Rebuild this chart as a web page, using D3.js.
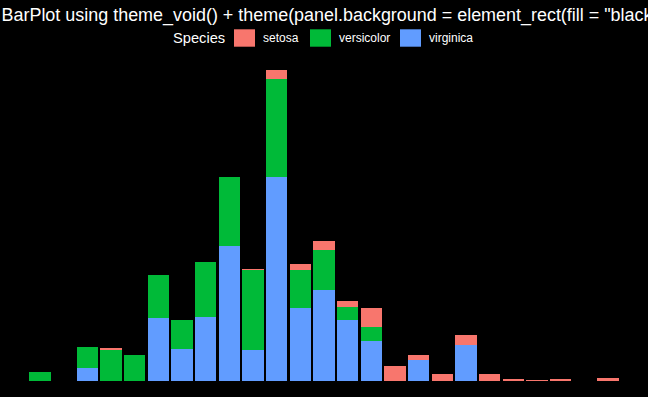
<!DOCTYPE html>
<html>
<head>
<meta charset="utf-8">
<script src="https://cdn.jsdelivr.net/npm/d3@7"></script>
<style>
  body { margin: 0; background: #000; }
  text { font-family: "Liberation Sans", Arial, sans-serif; fill: #fff; }
</style>
</head>
<body>
<div id="chart"></div>
<script>
var width = 648,
height = 397;

// Sepal.Width values present in the data
var sepalWidth = [2.0, 2.2, 2.3, 2.4, 2.5, 2.6, 2.7, 2.8, 2.9, 3.0, 3.1, 3.2,
  3.3, 3.4, 3.5, 3.6, 3.7, 3.8, 3.9, 4.0, 4.1, 4.2, 4.4];

// summed bar heights per species
var setosa = [0, 0, 0.3, 0, 0, 0, 0, 0, 0.2, 1.1, 0.7, 1.0,
  0.7, 2.3, 1.8, 0.5, 0.8, 1.2, 0.8, 0.2, 0.1, 0.2, 0.4];
var versicolor = [1.0, 2.5, 3.6, 3.1, 5.0, 3.4, 6.5, 8.0, 9.4, 11.5, 4.4, 4.7,
  1.6, 1.6, 0, 0, 0, 0, 0, 0, 0, 0, 0];
var virginica = [0, 1.5, 0, 0, 7.4, 3.7, 7.5, 15.9, 3.6, 23.9, 8.6, 10.7,
  7.1, 4.7, 0, 2.5, 0, 4.2, 0, 0, 0, 0, 0];

var species = ["setosa", "versicolor", "virginica"];
var colors = ["#F8766D", "#00BA38", "#619CFF"];
var titleText = 'BarPlot using theme_void() + theme(panel.background = element_rect(fill = "black"))';

var rows = sepalWidth.map(function(w, i) {
  return { w: w, setosa: setosa[i], versicolor: versicolor[i], virginica: virginica[i] };
});

var color = d3.scaleOrdinal().domain(species).range(colors);

// virginica at the bottom, setosa on top
var stacked = d3.stack().keys(["virginica", "versicolor", "setosa"])(rows);

var maxY = d3.max(rows, function(d) { return d.setosa + d.versicolor + d.virginica; });

var barW = 0.09,
  xMin = d3.min(sepalWidth) - barW / 2,
  xMax = d3.max(sepalWidth) + barW / 2,
  xPad = (xMax - xMin) * 0.05;

var x = d3.scaleLinear()
  .domain([xMin - xPad, xMax + xPad])
  .range([0, width]);

var y = d3.scaleLinear()
  .domain([-0.05 * maxY, 1.05 * maxY])
  .range([396.5, 54.5]);

var svg = d3.select("#chart").append("svg")
  .attr("width", width)
  .attr("height", height)
  .style("display", "block");

svg.append("rect")
  .attr("width", width)
  .attr("height", height)
  .attr("fill", "#000");

// bars
svg.selectAll(".layer")
  .data(stacked)
  .enter().append("g")
  .attr("class", "layer")
  .attr("fill", function(d) { return color(d.key); })
  .attr("shape-rendering", "crispEdges")
  .selectAll("rect")
  .data(function(d) { return d.filter(function(p) { return p[1] - p[0] > 0; }); })
  .enter().append("rect")
  .attr("x", function(d) { return x(d.data.w - barW / 2); })
  .attr("width", function(d) { return x(d.data.w + barW / 2) - x(d.data.w - barW / 2); })
  .attr("y", function(d) { return y(d[1]); })
  .attr("height", function(d) { return y(d[0]) - y(d[1]); });

// title (runs past the right edge, as in the original)
svg.append("text")
  .attr("x", 1.5)
  .attr("y", 21)
  .style("font-size", "17.95px")
  .text(titleText);

// legend
var legend = svg.append("g");
legend.append("text")
  .attr("x", 173)
  .attr("y", 43)
  .style("font-size", "14.67px")
  .text("Species");

var keyX = [234, 310, 400];
var item = legend.selectAll(".item")
  .data(species)
  .enter().append("g")
  .attr("class", "item")
  .attr("transform", function(d, i) { return "translate(" + keyX[i] + ",29.3)"; });

item.append("rect")
  .attr("width", 21)
  .attr("height", 17.4)
  .attr("fill", function(d) { return color(d); });

item.append("text")
  .attr("x", 29)
  .attr("y", 12.8)
  .style("font-size", "12px")
  .text(function(d) { return d; });
</script>
</body>
</html>
